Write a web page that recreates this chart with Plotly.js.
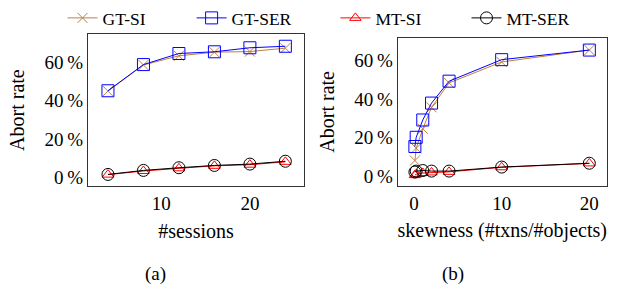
<!DOCTYPE html>
<html><head><meta charset="utf-8">
<script src="https://cdn.plot.ly/plotly-3.0.1.min.js"></script>
<style>html,body{margin:0;padding:0;background:#fff;}#c{width:621px;height:293px;}</style>
</head><body><div id="c"></div>
<script>
// (a) abort rate vs number of sessions
const sessions = [4, 8, 12, 16, 20, 24];
const aGTSI  = [45.0, 58.7, 63.5, 65.4, 65.7, 67.5];
const aGTSER = [45.2, 58.9, 64.7, 65.6, 67.7, 68.5];
const aMTSI  = [1.3, 3.2, 4.6, 5.9, 6.5, 8.0];
const aMTSER = [1.4, 3.5, 4.9, 6.1, 6.8, 8.3];
// (b) abort rate vs skewness
const skew   = [0.1, 0.25, 1, 2, 4, 10, 20];
const bGTSI  = [8.1, 14.5, 24.6, 35.8, 48.5, 59.4, 65.6];
const bGTSER = [15.4, 20.2, 29.2, 38.0, 49.4, 60.6, 65.6];
const bMTSI  = [0.5, 1.0, 1.6, 1.9, 2.2, 4.6, 6.6];
const bMTSER = [2.1, 2.6, 2.9, 2.6, 2.6, 4.7, 6.7];
const seriesNames = ['GT-SI', 'GT-SER', 'MT-SI', 'MT-SER'];
const yTicks = [0, 20, 40, 60];
const yTickText = ['0\u2009%', '20\u2009%', '40\u2009%', '60\u2009%'];
const xTicksA = [10, 20];
const xTicksB = [0, 10, 20];

const styles = [
  {color: '#bf8040', symbol: 'x-thin-open', size: 10},
  {color: '#0000ff', symbol: 'square-open', size: 12},
  {color: '#ff0000', symbol: 'triangle-up-open', size: 10},
  {color: '#000000', symbol: 'circle-open', size: 12}
];
const aData = [aGTSI, aGTSER, aMTSI, aMTSER];
const bData = [bGTSI, bGTSER, bMTSI, bMTSER];
const legendIds = ['legend', 'legend2', 'legend3', 'legend4'];
const legendTextX = [102.5, 231.6, 375.4, 506.5]; // px where each legend label starts

const traces = [];
seriesNames.forEach((n, i) => {
  const s = styles[i];
  const common = {
    mode: 'lines+markers', name: n, legendgroup: n, legend: legendIds[i],
    line: {color: s.color, width: 1},
    marker: {symbol: s.symbol, size: s.size, color: s.color, line: {color: s.color, width: 1}}
  };
  traces.push(Object.assign({x: sessions, y: aData[i], xaxis: 'x', yaxis: 'y', showlegend: true}, common));
  traces.push(Object.assign({x: skew, y: bData[i], xaxis: 'x2', yaxis: 'y2', showlegend: false}, common));
});

const SERIF = '"Liberation Serif", "Times New Roman", Times, serif';
function f(size) { return {family: SERIF, size: size, color: '#000'}; }
function xAxis(dom, rng, ticks, title, anchor) {
  return {domain: dom, range: rng, anchor: anchor, tickmode: 'array', tickvals: ticks,
    showgrid: false, zeroline: false, showline: true, mirror: true, linecolor: '#333', linewidth: 1,
    ticks: '', tickfont: f(19), title: {text: title, font: f(20), standoff: 10}};
}
function yAxis(dom, rng, title, anchor) {
  return {domain: dom, range: rng, anchor: anchor, tickmode: 'array', tickvals: yTicks, ticktext: yTickText,
    showgrid: false, zeroline: false, showline: true, mirror: true, linecolor: '#333', linewidth: 1,
    ticks: '', tickfont: f(19), title: {text: title, font: f(20), standoff: 14}};
}

const layout = {
  width: 621, height: 293,
  margin: {l: 0, r: 0, t: 0, b: 0},
  paper_bgcolor: '#fff', plot_bgcolor: '#fff',
  font: f(19),
  showlegend: true,
  xaxis: xAxis([88/621, 304/621], [1.75, 26.1], xTicksA, '#sessions', 'y'),
  yaxis: yAxis([107/293, 260/293], [-4.85, 74.97], 'Abort rate', 'x'),
  xaxis2: xAxis([397.7/621, 606.7/621], [-1.86, 21.98], xTicksB, 'skewness (#txns/#objects)', 'y2'),
  yaxis2: yAxis([107.3/293, 256.3/293], [-5.19, 72.1], 'Abort rate', 'x2'),
  annotations: [
    {text: '(a)', xref: 'paper', yref: 'paper', x: 155/621, y: 1 - 274/293, showarrow: false,
     font: f(19), xanchor: 'center', yanchor: 'middle'},
    {text: '(b)', xref: 'paper', yref: 'paper', x: 453/621, y: 1 - 274/293, showarrow: false,
     font: f(19), xanchor: 'center', yanchor: 'middle'}
  ]
};
legendIds.forEach((id, i) => {
  layout[id] = {orientation: 'h', x: (legendTextX[i] - 40) / 621, xanchor: 'left',
    y: 1 - 16.7 / 293, yanchor: 'middle', font: f(17.5), itemwidth: 30,
    bgcolor: 'rgba(0,0,0,0)', borderwidth: 0};
});

Plotly.newPlot('c', traces, layout, {displayModeBar: false, staticPlot: true});
</script>
</body></html>
